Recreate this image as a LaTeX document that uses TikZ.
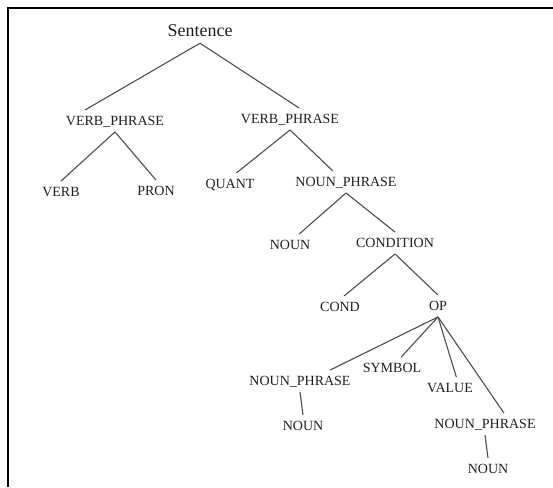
\documentclass[tikz,border=0pt]{standalone}
\usepackage{fontspec}
\setmainfont{Liberation Serif}
\usetikzlibrary{calc}
\definecolor{linegray}{gray}{0.3}
\definecolor{textgray}{gray}{0.12}

\begin{document}
\begin{tikzpicture}[x=1pt,y=-1pt,
  tag/.style={font=\fontsize{14}{16}\selectfont, text=textgray, inner xsep=2pt, inner ysep=6pt, text height=9.5pt, text depth=0pt},
  branch/.style={draw=linegray, line width=1.1pt}]
  \useasboundingbox (0,0) rectangle (553,487);
  \draw[line width=2pt] (8,487) -- (8,8) -- (553,8); % 枠 (左と上だけ)

  \node[tag, font=\fontsize{18}{20}\selectfont, text height=12pt](sent) at (200,31){Sentence}; % 根
  \node[tag](vp1) at (115,121){VERB\_PHRASE};
  \node[tag](vp2) at (290,119){VERB\_PHRASE};
  \node[tag](verb) at (61,192){VERB};
  \node[tag](pron) at (156,191){PRON};
  \node[tag](quant) at (230,184){QUANT};
  \node[tag](np1) at (346,182){NOUN\_PHRASE};
  \node[tag](noun1) at (290,245){NOUN};
  \node[tag](cond) at (395,243){CONDITION};
  \node[tag](cnd) at (340,307){COND};
  \node[tag](op) at (438,306){OP};
  \node[tag](np2) at (300,381){NOUN\_PHRASE};
  \node[tag](sym) at (392,368){SYMBOL};
  \node[tag](val) at (450,388){VALUE};
  \node[tag](np3) at (485,424){NOUN\_PHRASE};
  \node[tag](noun2) at (303,426){NOUN};
  \node[tag](noun3) at (488,469){NOUN};

  % 親の下端から子へ。角度アンカーで線の先を少しずらす
  \foreach \a/\b in {sent/vp1.160, sent/vp2.50, vp1/verb.north, vp1/pron.north,
                     vp2/quant.60, vp2/np1.140, np1/noun1.50, np1/cond.north,
                     cond/cnd.70, cond/op.north, op/np2.20, op/sym.50,
                     op/val.60, op/np3.30, np2/noun2.north, np3/noun3.north} {
    \draw[branch] (\a.south) -- (\b);
  }
\end{tikzpicture}
\end{document}
